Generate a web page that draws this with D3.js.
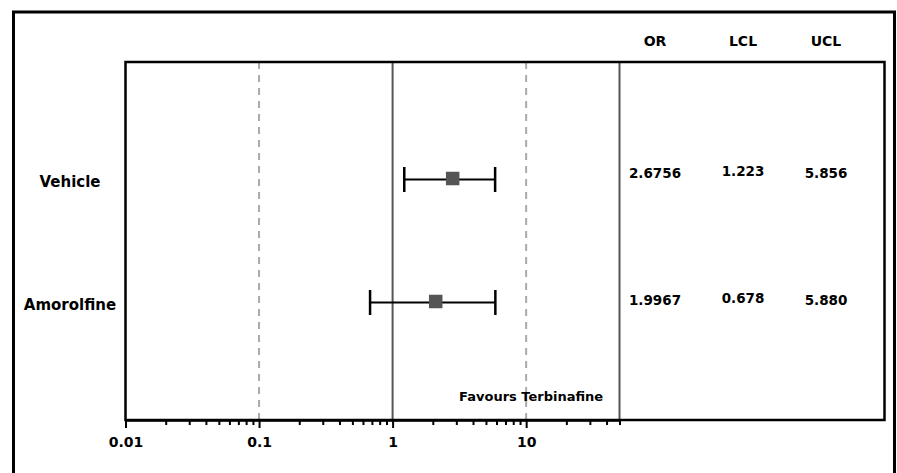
<!DOCTYPE html>
<html>
<head>
<meta charset="utf-8">
<script src="https://cdn.jsdelivr.net/npm/d3@7"></script>
<style>
  body { margin: 0; background: #fff; }
  svg text { font-family: "DejaVu Sans", Verdana, sans-serif; font-weight: bold; fill: #000; }
</style>
</head>
<body>
<div class="chart"></div>
<script>
// forest plot data
var studies = ["Vehicle", "Amorolfine"];
var oddsRatios = [2.6756, 1.9967];
var lowerCL = [1.223, 0.678];
var upperCL = [5.856, 5.880];
var columnHeaders = ["OR", "LCL", "UCL"];
var tickLabels = [0.01, 0.1, 1, 10];
var dashedRefs = [0.1, 10];
var solidRefs = [1, 50];
var favoursLabel = "Favours Terbinafine";

var width = 897, height = 473;

var svg = d3.select('.chart')
    .append('svg')
    .attr('width', width)
    .attr('height', height);

// plot region
var plotLeft = 125.5, plotTop = 62, plotBottom = 420, tableRight = 884.5;

var x = d3.scaleLog()
    .domain([0.01, 50])
    .range([plotLeft, 619.5]);

var y = d3.scalePoint()
    .domain(studies)
    .range([179.5, 302.5]);

// outer frame (bottom runs off the page)
svg.append('rect')
    .attr('x', 13.5)
    .attr('y', 12)
    .attr('width', 881)
    .attr('height', 480)
    .attr('fill', 'none')
    .attr('stroke', '#000')
    .attr('stroke-width', 3);

// reference lines
svg.selectAll('.dashed')
    .data(dashedRefs)
    .enter()
    .append('line')
    .attr('x1', function (d) { return x(d); })
    .attr('x2', function (d) { return x(d); })
    .attr('y1', plotTop)
    .attr('y2', plotBottom)
    .attr('stroke', '#aaa')
    .attr('stroke-width', 2)
    .attr('stroke-dasharray', '7,6');

svg.selectAll('.solid')
    .data(solidRefs)
    .enter()
    .append('line')
    .attr('x1', function (d) { return x(d); })
    .attr('x2', function (d) { return x(d); })
    .attr('y1', plotTop)
    .attr('y2', plotBottom)
    .attr('stroke', '#555')
    .attr('stroke-width', 2);

// inner frame
svg.append('rect')
    .attr('x', plotLeft)
    .attr('y', plotTop)
    .attr('width', tableRight - plotLeft)
    .attr('height', plotBottom - plotTop)
    .attr('fill', 'none')
    .attr('stroke', '#000')
    .attr('stroke-width', 2.5);

// x axis, minor ticks unlabelled
var axis = d3.axisBottom(x)
    .tickValues(x.ticks())
    .tickSize(5)
    .tickSizeOuter(0)
    .tickFormat(function (d) {
        return tickLabels.indexOf(d) >= 0 ? String(d) : '';
    });

var gAxis = svg.append('g')
    .attr('transform', 'translate(0,' + plotBottom + ')')
    .call(axis);

gAxis.select('.domain').attr('stroke', '#000').attr('stroke-width', 2.5);
gAxis.selectAll('.tick line')
    .attr('stroke', '#000')
    .attr('stroke-width', 2)
    .attr('y2', function (d) { return tickLabels.indexOf(d) >= 0 ? 8 : 5; });
gAxis.selectAll('.tick text')
    .attr('y', 17)
    .style('font-family', '"DejaVu Sans", Verdana, sans-serif')
    .style('font-weight', 'bold')
    .style('font-size', '14px')
    .attr('fill', '#000');

// error bars
var rows = svg.selectAll('.row')
    .data(studies)
    .enter()
    .append('g')
    .attr('class', 'row');

rows.append('line')
    .attr('x1', function (d, i) { return x(lowerCL[i]); })
    .attr('x2', function (d, i) { return x(upperCL[i]); })
    .attr('y1', function (d) { return y(d); })
    .attr('y2', function (d) { return y(d); })
    .attr('stroke', '#000')
    .attr('stroke-width', 2);

[lowerCL, upperCL].forEach(function (limits) {
    rows.append('line')
        .attr('x1', function (d, i) { return x(limits[i]); })
        .attr('x2', function (d, i) { return x(limits[i]); })
        .attr('y1', function (d) { return y(d) - 12.5; })
        .attr('y2', function (d) { return y(d) + 12.5; })
        .attr('stroke', '#000')
        .attr('stroke-width', 2.5);
});

var sq = 13.5;
rows.append('rect')
    .attr('x', function (d, i) { return x(oddsRatios[i]) - sq / 2 + 3; })
    .attr('y', function (d) { return y(d) - sq / 2 - 1; })
    .attr('width', sq)
    .attr('height', sq)
    .attr('fill', '#555');

// study labels
rows.append('text')
    .attr('x', 70)
    .attr('y', function (d) { return y(d) + 3; })
    .attr('text-anchor', 'middle')
    .attr('dominant-baseline', 'middle')
    .style('font-size', '15px')
    .text(function (d) { return d; });

// table
var colX = [655, 743, 826];
svg.selectAll('.header')
    .data(columnHeaders)
    .enter()
    .append('text')
    .attr('x', function (d, i) { return colX[i]; })
    .attr('y', 42)
    .attr('text-anchor', 'middle')
    .attr('dominant-baseline', 'middle')
    .style('font-size', '14px')
    .text(function (d) { return d; });

var fmt3 = d3.format('.3f');
var tableCols = [
    function (i) { return String(oddsRatios[i]); },
    function (i) { return fmt3(lowerCL[i]); },
    function (i) { return fmt3(upperCL[i]); }
];

tableCols.forEach(function (fn, c) {
    rows.append('text')
        .attr('x', colX[c])
        .attr('y', function (d, i) { return y(d) - (i === 0 ? 6 : 2) - (c === 1 ? 2 : 0); })
        .attr('text-anchor', 'middle')
        .attr('dominant-baseline', 'middle')
        .style('font-size', '13.5px')
        .text(function (d, i) { return fn(i); });
});

svg.append('text')
    .attr('x', x(10) + 5)
    .attr('y', 397)
    .attr('text-anchor', 'middle')
    .attr('dominant-baseline', 'middle')
    .style('font-size', '13px')
    .text(favoursLabel);
</script>
</body>
</html>
